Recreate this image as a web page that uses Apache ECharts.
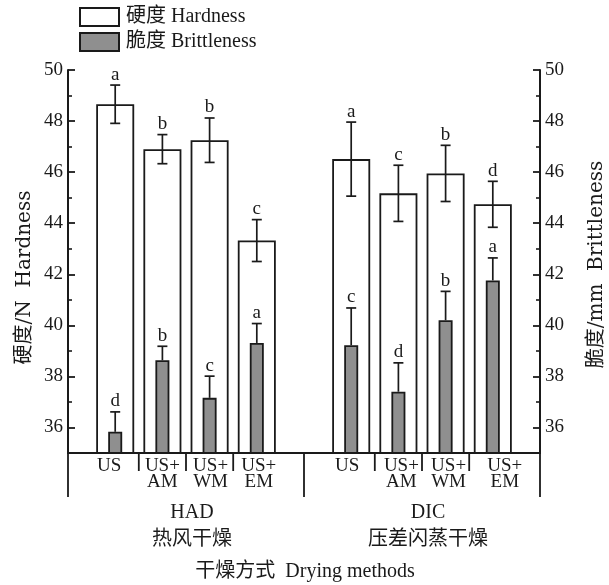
<!DOCTYPE html>
<html><head><meta charset="utf-8">
<script src="https://cdn.jsdelivr.net/npm/echarts@6/dist/echarts.min.js"></script>
<style>html,body{margin:0;padding:0;background:#fff}#c{width:609px;height:585px}</style>
</head><body><div id="c"></div>
<script>
// ---- data ----
const categories = ['US', 'US+\nAM', 'US+\nWM', 'US+\nEM', 'US', 'US+\nAM', 'US+\nWM', 'US+\nEM'];
const groupNames = ['HAD', 'DIC'];
const groupNamesCn = ['热风干燥', '压差闪蒸干燥'];
const slots = [1, 2, 3, 4, 6, 7, 8, 9];
const hardness = [48.66, 46.90, 47.25, 43.32, 46.51, 45.17, 45.95, 44.74];
const hardnessErr = [0.75, 0.57, 0.87, 0.82, 1.45, 1.10, 1.10, 0.90];
const hardnessSig = ['a', 'b', 'b', 'c', 'a', 'c', 'b', 'd'];
const brittleness = [35.83, 38.63, 37.16, 39.31, 39.22, 37.40, 40.20, 41.76];
const brittlenessErr = [0.78, 0.55, 0.85, 0.76, 1.46, 1.13, 1.13, 0.88];
const brittlenessSig = ['d', 'b', 'c', 'a', 'c', 'd', 'b', 'a'];
const tickValues = [36, 38, 40, 42, 44, 46, 48, 50];
const minorTickValues = [37, 39, 41, 43, 45, 47, 49];
const seriesNames = ['硬度 Hardness', '脆度 Brittleness'];
const yNameLeft = '硬度/N  Hardness';
const yNameRight = '脆度/mm  Brittleness';
const xTitle = '干燥方式  Drying methods';

// ---- layout ----
const FONT = "'Liberation Serif', 'Noto Sans CJK SC', serif";
const NAMEFONT = "'DejaVu Serif', 'Noto Sans CJK SC', serif";
const INK = '#1a1a1a';
const labelShift = [-6, 0, 1, 2, -4, 3, 3, 12];

const chart = echarts.init(document.getElementById('c'), null, {renderer: 'canvas'});

function errRender(vals, errs, sigs, full) {
  return function (params, api) {
    const i = params.dataIndex;
    const x = api.value(0), v = api.value(1), e = api.value(2);
    const top = api.coord([x, v + e]);
    const mid = api.coord([x, v]);
    const bot = api.coord([x, v - e]);
    const cx = top[0], hw = 5;
    const st = {stroke: INK, lineWidth: 1.7};
    const children = [
      {type: 'line', shape: {x1: cx, y1: top[1], x2: cx, y2: full ? bot[1] : mid[1]}, style: st},
      {type: 'line', shape: {x1: cx - hw, y1: top[1], x2: cx + hw, y2: top[1]}, style: st}
    ];
    if (full) children.push({type: 'line', shape: {x1: cx - hw, y1: bot[1], x2: cx + hw, y2: bot[1]}, style: st});
    children.push({type: 'text', x: cx, y: top[1] - 1,
      style: {text: sigs[i], align: 'center', verticalAlign: 'bottom', font: '19px ' + FONT, fill: INK}});
    return {type: 'group', children: children};
  };
}

const yBase = {type: 'value', min: 35, max: 50, splitLine: {show: false}};
function majorAxis(pos) {
  return Object.assign({}, yBase, {
    position: pos,
    axisLine: {show: true, lineStyle: {color: INK, width: 2}},
    axisTick: {show: true, inside: true, length: 7, customValues: tickValues, lineStyle: {color: INK, width: 1.8}},
    axisLabel: {show: true, customValues: tickValues, margin: 5, fontSize: 19, fontFamily: FONT, color: INK}
  });
}
function minorAxis(pos) {
  return Object.assign({}, yBase, {
    position: pos,
    axisLine: {show: false},
    axisTick: {show: true, inside: true, length: 4, customValues: minorTickValues, lineStyle: {color: INK, width: 1.6}},
    axisLabel: {show: false}
  });
}

const option = {
  animation: false,
  backgroundColor: '#fff',
  grid: {left: 68, right: 69, top: 70, bottom: 132, containLabel: false},
  legend: {
    data: seriesNames, orient: 'vertical', left: 79, top: 7, padding: 0,
    itemWidth: 39, itemHeight: 18, itemGap: 5, icon: 'rect',
    textStyle: {fontSize: 20, fontFamily: FONT, color: INK, padding: [0, 0, 0, 2]}
  },
  xAxis: [
    {type: 'value', min: 0, max: 10, show: false},
    {type: 'value', min: 0, max: 10, show: false}
  ],
  yAxis: [majorAxis('left'), minorAxis('left'), majorAxis('right'), minorAxis('right')],
  series: [
    {name: seriesNames[0], type: 'bar', xAxisIndex: 0, yAxisIndex: 0, barWidth: 38, z: 2,
     itemStyle: {color: '#ffffff', borderColor: INK, borderWidth: 1.8},
     data: slots.map((s, i) => [s, hardness[i]])},
    {name: seriesNames[1], type: 'bar', xAxisIndex: 1, yAxisIndex: 0, barWidth: 14, z: 3,
     itemStyle: {color: '#8f8f8f', borderColor: INK, borderWidth: 1.8},
     data: slots.map((s, i) => [s, brittleness[i]])},
    {type: 'custom', xAxisIndex: 0, yAxisIndex: 0, z: 4,
     renderItem: errRender(hardness, hardnessErr, hardnessSig, true),
     data: slots.map((s, i) => [s, hardness[i], hardnessErr[i]])},
    {type: 'custom', xAxisIndex: 0, yAxisIndex: 0, z: 4,
     renderItem: errRender(brittleness, brittlenessErr, brittlenessSig, false),
     data: slots.map((s, i) => [s, brittleness[i], brittlenessErr[i]])}
  ]
};
chart.setOption(option);

// ---- table-like x axis, names ----
const px = v => chart.convertToPixel({xAxisIndex: 0}, v);
const py = v => chart.convertToPixel({yAxisIndex: 0}, v);
const yb = py(35);
const x0 = px(0), x5 = px(5), x10 = px(10);
const lineSt = {stroke: INK, lineWidth: 1.8};
const g = [];
g.push({type: 'line', shape: {x1: x0 - 1, y1: yb, x2: x10 + 1, y2: yb}, style: lineSt});
[0, 5, 10].forEach(v => g.push({type: 'line', shape: {x1: px(v), y1: yb, x2: px(v), y2: yb + 44}, style: lineSt}));
[1.5, 2.5, 3.5, 6.5, 7.5, 8.5].forEach(v => g.push({type: 'line', shape: {x1: px(v), y1: yb, x2: px(v), y2: yb + 18}, style: lineSt}));
categories.forEach((c, i) => {
  const lines = c.split('\n');
  const cx = px(slots[i]) + labelShift[i];
  lines.forEach((t, k) => g.push({type: 'text', x: cx, y: yb + 13 + k * 16,
    style: {text: t, align: 'center', verticalAlign: 'middle', font: '19px ' + FONT, fill: INK}}));
});
groupNames.forEach((n, k) => {
  const cx = px(k === 0 ? 2.5 : 7.5) + 6;
  g.push({type: 'text', x: cx, y: yb + 60, style: {text: n, align: 'center', verticalAlign: 'middle', font: '20px ' + FONT, fill: INK}});
  g.push({type: 'text', x: cx, y: yb + 87, style: {text: groupNamesCn[k], align: 'center', verticalAlign: 'middle', font: '20px ' + FONT, fill: INK}});
});
g.push({type: 'text', x: x5 + 1, y: yb + 119, style: {text: xTitle, align: 'center', verticalAlign: 'middle', font: '20px ' + FONT, fill: INK}});
g.push({type: 'text', x: 25, y: (py(50) + yb) / 2 + 16, rotation: Math.PI / 2,
  style: {text: yNameLeft, align: 'center', verticalAlign: 'middle', font: '20px ' + NAMEFONT, fill: INK}});
g.push({type: 'text', x: 597, y: (py(50) + yb) / 2 + 3, rotation: Math.PI / 2,
  style: {text: yNameRight, align: 'center', verticalAlign: 'middle', font: '20px ' + NAMEFONT, fill: INK}});
chart.setOption({graphic: g.map(e => Object.assign({silent: true}, e))});
</script>
</body></html>
